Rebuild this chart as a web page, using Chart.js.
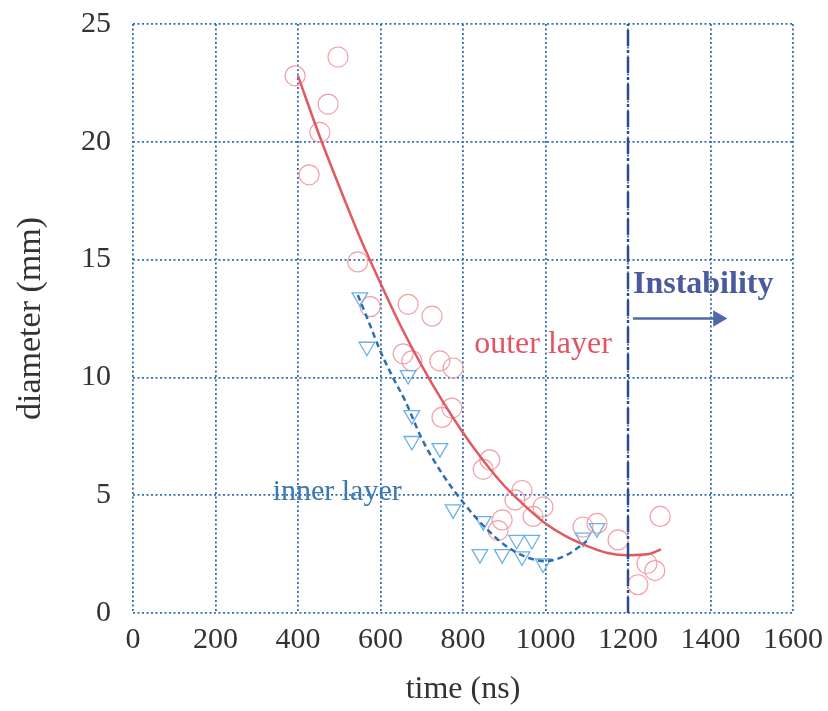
<!DOCTYPE html>
<html>
<head>
<meta charset="utf-8">
<script src="https://cdn.jsdelivr.net/npm/chart.js@4.4.1/dist/chart.umd.min.js"></script>
<style>
  html, body { margin: 0; padding: 0; background: #ffffff; }
  #wrap { width: 828px; height: 711px; position: relative; }
</style>
</head>
<body>
<div id="wrap"><canvas id="c" width="828" height="711"></canvas></div>
<script>
// ---- Data ----
const xTicks = [0, 200, 400, 600, 800, 1000, 1200, 1400, 1600];
const yTicks = [0, 5, 10, 15, 20, 25];

// outer layer measurements (open circles)
const outerTime = [393, 497, 473, 453, 427, 545, 575, 667, 725, 655, 676, 744, 776, 749, 773, 865, 849, 943, 926, 994, 970, 895, 885, 1091, 1125, 1176, 1278, 1246, 1265, 1224];
const outerDiam = [22.8, 23.6, 21.6, 20.4, 18.6, 14.9, 13.0, 13.1, 12.6, 11.0, 10.7, 10.7, 10.4, 8.3, 8.7, 6.5, 6.1, 5.2, 4.8, 4.5, 4.1, 3.95, 3.5, 3.65, 3.8, 3.1, 4.1, 2.1, 1.8, 1.2];

// inner layer measurements (down triangles)
const innerTime = [550, 567, 667, 676, 676, 744, 776, 849, 841, 895, 930, 967, 943, 994, 1091, 1125];
const innerDiam = [13.4, 11.3, 10.1, 8.4, 7.3, 7.0, 4.4, 3.9, 2.5, 2.5, 3.1, 3.1, 2.4, 2.1, 3.2, 3.6];

// outer layer fit curve (solid red)
const outerFitTime = [400, 450, 500, 550, 600, 650, 700, 750, 800, 850, 900, 950, 1000, 1050, 1100, 1150, 1200, 1250, 1280];
const outerFitDiam = [22.8, 20.35, 18.1, 15.95, 14.0, 12.15, 10.5, 9.0, 7.65, 6.45, 5.4, 4.55, 3.8, 3.25, 2.85, 2.55, 2.45, 2.5, 2.7];

// inner layer fit curve (dashed blue)
const innerFitTime = [545, 575, 600, 630, 660, 700, 750, 800, 850, 900, 950, 1000, 1050, 1100];
const innerFitDiam = [13.5, 12.2, 11.1, 10.0, 9.0, 7.4, 5.9, 4.7, 3.7, 2.9, 2.4, 2.2, 2.45, 3.05];

// instability marker line and arrow
const instabTime = [1200, 1200];
const instabDiam = [0, 25];
const arrowTime = [1212, 1418];
const arrowDiam = [12.5, 12.5];

// ---- build datasets ----
const pts = (xs, ys) => xs.map((x, i) => ({ x: x, y: ys[i] }));

const serif = '"Liberation Serif", "Times New Roman", "DejaVu Serif", serif';
const gridColor = '#2f6fb3';
const dotted = [2, 2.5];

const annotations = {
  id: 'annotations',
  afterDatasetsDraw(chart) {
    const { ctx, scales: { x, y } } = chart;
    ctx.save();
    ctx.textBaseline = 'middle';
    // outer layer label
    ctx.font = '32px ' + serif;
    ctx.fillStyle = '#e0555f';
    ctx.textAlign = 'center';
    ctx.fillText('outer layer', x.getPixelForValue(994), y.getPixelForValue(11.4));
    // inner layer label
    ctx.font = '30px ' + serif;
    ctx.fillStyle = '#3a78b4';
    ctx.fillText('inner layer', x.getPixelForValue(495), y.getPixelForValue(5.15));
    // Instability
    ctx.font = 'bold 32px ' + serif;
    ctx.fillStyle = '#4a5a9c';
    ctx.textAlign = 'left';
    ctx.fillText('Instability', x.getPixelForValue(1212), y.getPixelForValue(13.95));
    ctx.restore();
  }
};

new Chart(document.getElementById('c'), {
  type: 'scatter',
  data: {
    datasets: [
      {
        label: 'outer layer fit',
        data: pts(outerFitTime, outerFitDiam),
        showLine: true,
        borderColor: '#e05a60',
        borderWidth: 2.5,
        pointRadius: 0,
        tension: 0.4,
        cubicInterpolationMode: 'monotone',
        order: 1
      },
      {
        label: 'inner layer fit',
        data: pts(innerFitTime, innerFitDiam),
        showLine: true,
        borderColor: '#2f6eae',
        borderWidth: 2.5,
        borderDash: [6, 4],
        pointRadius: 0,
        tension: 0.4,
        cubicInterpolationMode: 'monotone',
        order: 2
      },
      {
        label: 'instability',
        data: pts(instabTime, instabDiam),
        showLine: true,
        borderColor: '#2f4a8a',
        borderWidth: 2.5,
        borderDash: [16, 4, 3, 4],
        pointRadius: 0,
        order: 0
      },
      {
        label: 'arrow',
        data: pts(arrowTime, arrowDiam),
        showLine: true,
        borderColor: '#5068aa',
        backgroundColor: '#5068aa',
        borderWidth: 2.5,
        pointRadius: [0, 7],
        pointStyle: 'triangle',
        rotation: 90,
        order: 0
      },
      {
        label: 'outer layer',
        data: pts(outerTime, outerDiam),
        pointStyle: 'circle',
        pointRadius: 10,
        borderColor: '#f2a0a8',
        backgroundColor: 'rgba(0,0,0,0)',
        borderWidth: 1.2,
        order: 4
      },
      {
        label: 'inner layer',
        data: pts(innerTime, innerDiam),
        pointStyle: 'triangle',
        rotation: 180,
        pointRadius: 9,
        borderColor: '#6cb0e6',
        backgroundColor: 'rgba(0,0,0,0)',
        borderWidth: 1.3,
        order: 3
      }
    ]
  },
  options: {
    responsive: false,
    animation: false,
    events: [],
    layout: { padding: { top: 24, right: 35, left: 0, bottom: 0 } },
    plugins: {
      legend: { display: false },
      tooltip: { enabled: false }
    },
    scales: {
      x: {
        type: 'linear',
        min: 0,
        max: 1600,
        afterBuildTicks: (s) => { s.ticks = xTicks.map(v => ({ value: v })); },
        afterFit: (s) => { s.height = 98; s.paddingLeft = 0; s.paddingRight = 0; },
        grid: { color: gridColor, lineWidth: 1.8, drawTicks: false },
        border: { display: false, color: gridColor, width: 1.8, dash: dotted },
        ticks: {
          color: '#333333',
          padding: 9,
          font: { family: serif, size: 30 },
          maxRotation: 0,
          callback: (v) => String(v)
        },
        title: {
          display: true,
          text: 'time (ns)',
          color: '#333333',
          font: { family: serif, size: 32 },
          padding: { top: 0, bottom: 2 }
        }
      },
      y: {
        type: 'linear',
        min: 0,
        max: 25,
        afterBuildTicks: (s) => { s.ticks = yTicks.map(v => ({ value: v })); },
        afterFit: (s) => { s.width = 133; s.paddingTop = 0; s.paddingBottom = 0; },
        grid: { color: gridColor, lineWidth: 1.8, drawTicks: false },
        border: { display: false, color: gridColor, width: 1.8, dash: dotted },
        ticks: {
          color: '#333333',
          padding: 22,
          font: { family: serif, size: 30 },
          callback: (v) => String(v)
        },
        title: {
          display: true,
          text: 'diameter (mm)',
          color: '#333333',
          font: { family: serif, size: 34 },
          padding: { top: 11, bottom: 0 }
        }
      }
    }
  },
  plugins: [annotations]
});
</script>
</body>
</html>
